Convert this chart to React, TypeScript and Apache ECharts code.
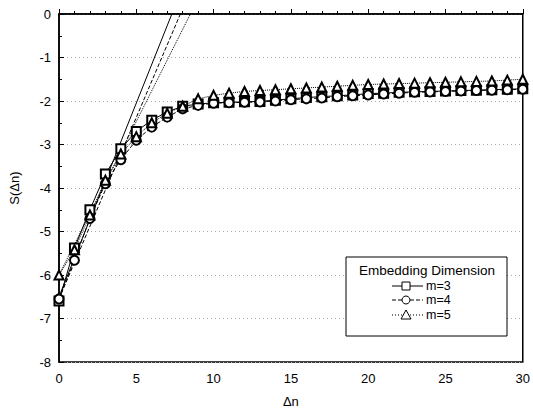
import React, { useEffect, useRef } from "react";
import * as echarts from "echarts";

const dn = Array.from({ length: 31 }, (_, i) => i);
const m3 = [-6.6, -5.38, -4.5, -3.68, -3.1, -2.7, -2.44, -2.25, -2.12, -2.07, -2.04, -2.03, -2.02, -2.01, -1.98, -1.95, -1.92, -1.9, -1.88, -1.86, -1.83, -1.82, -1.8, -1.79, -1.78, -1.77, -1.76, -1.75, -1.74, -1.73, -1.72];
const m4 = [-6.55, -5.66, -4.7, -3.9, -3.35, -2.9, -2.6, -2.37, -2.18, -2.1, -2.05, -2.04, -2.03, -2.02, -2.0, -1.97, -1.95, -1.93, -1.9, -1.88, -1.86, -1.84, -1.82, -1.8, -1.79, -1.78, -1.77, -1.76, -1.75, -1.74, -1.73];
const m5 = [-6.0, -5.42, -4.62, -3.82, -3.22, -2.82, -2.5, -2.28, -2.12, -1.95, -1.87, -1.82, -1.78, -1.76, -1.74, -1.72, -1.7, -1.68, -1.66, -1.64, -1.62, -1.61, -1.6, -1.59, -1.58, -1.57, -1.56, -1.55, -1.54, -1.52, -1.5];
const fit3 = [[0, -6.5], [7.3, 0]];
const fit4 = [[0, -6.55], [7.85, 0]];
const fit5 = [[0, -6.0], [8.5, 0]];
const seriesNames = ["m=3", "m=4", "m=5"];
const legendTitle = "Embedding Dimension";

const FONT = "'Liberation Sans', Arial, sans-serif";

export default function App() {
  const ref = useRef<HTMLDivElement>(null);
  useEffect(() => {
    const chart = echarts.init(ref.current!, null, { renderer: "svg" });
    const mk = (vals: number[]) => dn.map((x, i) => [x, vals[i]]);
    const lineStyles = ["solid", "dashed", "dotted"];
    const symbols = ["emptyRect", "emptyCircle", "emptyTriangle"];
    const datas = [m3, m4, m5];
    const fits = [fit3, fit4, fit5];
    const series: any[] = [];
    for (let k = 0; k < 3; k++) {
      series.push({
        type: "line",
        name: `fit${k}`,
        data: fits[k],
        symbol: "none",
        lineStyle: { color: "#000", width: 1, type: lineStyles[k] },
        z: 2,
      });
    }
    for (let k = 0; k < 3; k++) {
      series.push({
        type: "line",
        name: seriesNames[k],
        data: mk(datas[k]),
        symbol: symbols[k],
        symbolSize: 9,
        itemStyle: { color: "#000", borderWidth: 1 },
        lineStyle: { color: "#000", width: 1, type: lineStyles[k] },
        z: 3,
      });
    }

    // legend box drawn manually
    const lx1 = 392, lx2 = 423, mx = 406;
    const rows = [286, 300, 315];
    const dashes: any[] = [null, [4, 2], [1, 2]];
    const legendEls: any[] = [
      {
        type: "rect",
        shape: { x: 346, y: 257, width: 161, height: 79 },
        style: { fill: "#fff", stroke: "#000", lineWidth: 1 },
        z: 10,
      },
      {
        type: "text",
        x: 427,
        y: 270,
        style: { text: legendTitle, fill: "#000", fontSize: 13.5, fontFamily: FONT, align: "center", verticalAlign: "middle" },
        z: 11,
      },
    ];
    rows.forEach((cy, k) => {
      legendEls.push({
        type: "line",
        shape: { x1: lx1, y1: cy, x2: lx2, y2: cy },
        style: { stroke: "#000", lineWidth: 1, lineDash: dashes[k] },
        z: 11,
      });
      if (k === 0) {
        legendEls.push({ type: "rect", shape: { x: mx - 4, y: cy - 4, width: 8, height: 8 }, style: { fill: "#fff", stroke: "#000", lineWidth: 1 }, z: 12 });
      } else if (k === 1) {
        legendEls.push({ type: "circle", shape: { cx: mx, cy, r: 4 }, style: { fill: "#fff", stroke: "#000", lineWidth: 1 }, z: 12 });
      } else {
        legendEls.push({ type: "polygon", shape: { points: [[mx, cy - 5], [mx + 5, cy + 4], [mx - 5, cy + 4]] }, style: { fill: "#fff", stroke: "#000", lineWidth: 1 }, z: 12 });
      }
      legendEls.push({
        type: "text",
        x: 426,
        y: cy,
        style: { text: seriesNames[k], fill: "#000", fontSize: 12.5, fontFamily: FONT, verticalAlign: "middle" },
        z: 12,
      });
    });

    chart.setOption({
      animation: false,
      backgroundColor: "#fff",
      grid: { left: 59, right: 6, top: 14, bottom: 54, show: true, borderColor: "#000", borderWidth: 1.5 },
      xAxis: {
        type: "value",
        min: 0,
        max: 30,
        interval: 5,
        name: "Δn",
        nameLocation: "middle",
        nameGap: 33,
        nameTextStyle: { color: "#000", fontSize: 13, fontFamily: FONT },
        axisLine: { lineStyle: { color: "#000", width: 1.5 } },
        axisTick: { inside: true, length: 5, lineStyle: { color: "#000" } },
        minorTick: { show: true, splitNumber: 5, length: 3, lineStyle: { color: "#000" } },
        axisLabel: { color: "#000", fontSize: 13, fontFamily: FONT, margin: 10 },
        splitLine: { show: false },
      },
      yAxis: {
        type: "value",
        min: -8,
        max: 0,
        interval: 1,
        name: "S(Δn)",
        nameLocation: "middle",
        nameGap: 38,
        nameTextStyle: { color: "#000", fontSize: 13, fontFamily: FONT },
        axisLine: { lineStyle: { color: "#000", width: 1.5 } },
        axisTick: { inside: true, length: 5, lineStyle: { color: "#000" } },
        minorTick: { show: true, splitNumber: 2, length: 3, lineStyle: { color: "#000" } },
        axisLabel: { color: "#000", fontSize: 13, fontFamily: FONT, margin: 8 },
        splitLine: { show: true, lineStyle: { color: "#aaa", type: [1, 3], width: 1 } },
      },
      graphic: legendEls,
      series,
    });
    return () => chart.dispose();
  }, []);
  return <div ref={ref} style={{ position: "fixed", left: 0, top: 0, width: 533, height: 416 }} />;
}
